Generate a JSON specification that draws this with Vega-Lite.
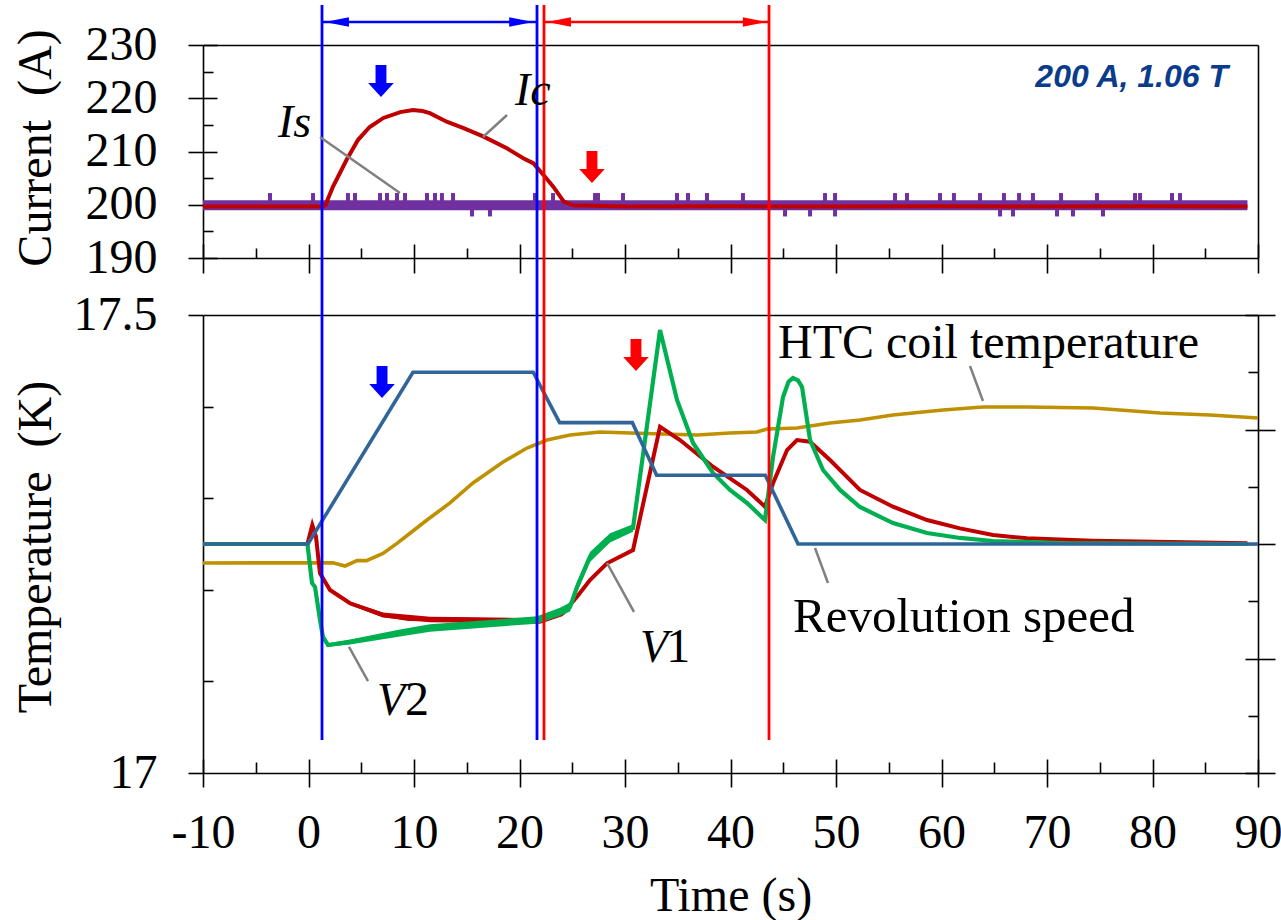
{
  "$schema": "https://vega.github.io/schema/vega-lite/v6.json",
  "width": 1055,
  "height": 728,
  "autosize": {"type": "none"},
  "padding": {"left": 203, "top": 45, "right": 23, "bottom": 147},
  "background": "white",
  "config": {
    "view": {"stroke": null},
    "axis": {
      "grid": false,
      "domainColor": "black",
      "tickColor": "black",
      "labelColor": "black",
      "titleColor": "black",
      "domainWidth": 1.6,
      "tickWidth": 1.6,
      "labelFont": "Liberation Serif",
      "labelFontSize": 48,
      "titleFont": "Liberation Serif",
      "titleFontSize": 48,
      "titleFontWeight": "normal",
      "labelFlush": false,
      "labelOverlap": false
    }
  },
  "datasets": {
    "Is": [{"t": -10, "I": 199.9}, {"t": 20, "I": 199.9}, {"t": 50, "I": 199.9}, {"t": 89, "I": 199.9}],
    "Is_spikes": [
      {"t": -3.65, "I": 202.2}, {"t": 0.43, "I": 202.2}, {"t": 3.74, "I": 202.2}, {"t": 4.41, "I": 202.2},
      {"t": 6.78, "I": 202.2}, {"t": 7.44, "I": 202.2}, {"t": 8.39, "I": 202.2}, {"t": 9.15, "I": 202.2},
      {"t": 11.23, "I": 202.2}, {"t": 11.99, "I": 202.2}, {"t": 12.65, "I": 202.2}, {"t": 13.7, "I": 202.2},
      {"t": 21.47, "I": 202.2}, {"t": 23.18, "I": 202.2}, {"t": 27.16, "I": 202.2}, {"t": 27.44, "I": 202.2},
      {"t": 29.81, "I": 202.2}, {"t": 34.93, "I": 202.2}, {"t": 35.97, "I": 202.2}, {"t": 37.77, "I": 202.2},
      {"t": 41.18, "I": 202.2}, {"t": 48.96, "I": 202.2}, {"t": 49.91, "I": 202.2}, {"t": 55.59, "I": 202.2},
      {"t": 56.73, "I": 202.2}, {"t": 59.86, "I": 202.2}, {"t": 61.18, "I": 202.2}, {"t": 63.65, "I": 202.2},
      {"t": 65.92, "I": 202.2}, {"t": 67.35, "I": 202.2}, {"t": 68.67, "I": 202.2}, {"t": 71.33, "I": 202.2},
      {"t": 74.74, "I": 202.2}, {"t": 78.34, "I": 202.2}, {"t": 78.82, "I": 202.2}, {"t": 81.85, "I": 202.2},
      {"t": 82.61, "I": 202.2},
      {"t": 15.5, "I": 197.8}, {"t": 17.2, "I": 197.8}, {"t": 45.17, "I": 197.8}, {"t": 47.54, "I": 197.8},
      {"t": 49.91, "I": 197.8}, {"t": 65.55, "I": 197.8}, {"t": 66.78, "I": 197.8}, {"t": 70.95, "I": 197.8},
      {"t": 72.46, "I": 197.8}, {"t": 75.31, "I": 197.8}
    ],
    "Ic": [
      {"t": -10, "I": 199.65}, {"t": 1.3, "I": 199.65}, {"t": 1.6, "I": 199.9}, {"t": 2.3, "I": 203.3},
      {"t": 3.6, "I": 208.4}, {"t": 4.7, "I": 212.2}, {"t": 5.8, "I": 214.6}, {"t": 7.1, "I": 216.3},
      {"t": 8.7, "I": 217.4}, {"t": 9.9, "I": 217.8}, {"t": 10.8, "I": 217.6}, {"t": 11.5, "I": 217.2},
      {"t": 13.1, "I": 215.6}, {"t": 14.7, "I": 214.4}, {"t": 16.6, "I": 212.8}, {"t": 18.8, "I": 210.6},
      {"t": 20.4, "I": 208.7}, {"t": 21.3, "I": 207.8}, {"t": 22.4, "I": 205.3}, {"t": 23.2, "I": 203.4},
      {"t": 24.2, "I": 200.6}, {"t": 25.1, "I": 199.9}, {"t": 30, "I": 199.65}, {"t": 40, "I": 199.7},
      {"t": 50, "I": 199.65}, {"t": 60, "I": 199.7}, {"t": 70, "I": 199.65}, {"t": 80, "I": 199.7},
      {"t": 89, "I": 199.65}
    ],
    "HTC": [
      {"t": -10, "T": 17.2293}, {"t": 2.32, "T": 17.2296}, {"t": 3.46, "T": 17.226}, {"t": 4.6, "T": 17.2318},
      {"t": 5.5, "T": 17.2318}, {"t": 7.06, "T": 17.2398}, {"t": 8.39, "T": 17.2507}, {"t": 9.62, "T": 17.2617},
      {"t": 11.23, "T": 17.2762}, {"t": 13.41, "T": 17.2948}, {"t": 15.59, "T": 17.3166}, {"t": 18.44, "T": 17.3395},
      {"t": 20.71, "T": 17.3548}, {"t": 22.61, "T": 17.3635}, {"t": 24.79, "T": 17.369}, {"t": 27.63, "T": 17.3723},
      {"t": 30.47, "T": 17.3712}, {"t": 33.6, "T": 17.3701}, {"t": 36.82, "T": 17.369}, {"t": 39.95, "T": 17.3712},
      {"t": 42.51, "T": 17.3723}, {"t": 43.46, "T": 17.3755}, {"t": 46.3, "T": 17.3766}, {"t": 49.43, "T": 17.3821},
      {"t": 52.27, "T": 17.3854}, {"t": 55.4, "T": 17.3908}, {"t": 60.14, "T": 17.3963}, {"t": 63.93, "T": 17.3996},
      {"t": 68.1, "T": 17.3996}, {"t": 74.36, "T": 17.3985}, {"t": 80.71, "T": 17.393}, {"t": 85.45, "T": 17.3908},
      {"t": 90, "T": 17.3876}
    ],
    "V1": [
      {"t": -10, "T": 17.25}, {"t": -0.1, "T": 17.25}, {"t": 0.36, "T": 17.2707}, {"t": 0.71, "T": 17.258},
      {"t": 1.09, "T": 17.218}, {"t": 2.04, "T": 17.1998}, {"t": 3.93, "T": 17.1853}, {"t": 7.06, "T": 17.1725},
      {"t": 9.5, "T": 17.168}, {"t": 11.52, "T": 17.1675}, {"t": 16, "T": 17.167}, {"t": 21.94, "T": 17.166},
      {"t": 24.12, "T": 17.1743}, {"t": 25.45, "T": 17.1925}, {"t": 26.68, "T": 17.2107}, {"t": 28.29, "T": 17.2289},
      {"t": 30.76, "T": 17.2434}, {"t": 33.32, "T": 17.378}, {"t": 35.21, "T": 17.3635}, {"t": 38.34, "T": 17.3344},
      {"t": 41.56, "T": 17.309}, {"t": 43.27, "T": 17.2907}, {"t": 44.03, "T": 17.3163}, {"t": 45.36, "T": 17.3526},
      {"t": 46.3, "T": 17.3635}, {"t": 47.54, "T": 17.3617}, {"t": 49.43, "T": 17.3417}, {"t": 52.27, "T": 17.309},
      {"t": 55.4, "T": 17.2907}, {"t": 58.63, "T": 17.2762}, {"t": 61.75, "T": 17.2671}, {"t": 64.88, "T": 17.2598},
      {"t": 68.1, "T": 17.2562}, {"t": 74.36, "T": 17.2536}, {"t": 89, "T": 17.2508}
    ],
    "V1_band": [
      {"t": 3.93, "lo": 17.1835, "hi": 17.1871}, {"t": 7.06, "lo": 17.1698, "hi": 17.1752},
      {"t": 11.52, "lo": 17.1645, "hi": 17.1705}, {"t": 16, "lo": 17.164, "hi": 17.17},
      {"t": 21.94, "lo": 17.163, "hi": 17.169}, {"t": 24.12, "lo": 17.1713, "hi": 17.1773}
    ],
    "V2": [
      {"t": -10, "T": 17.25}, {"t": -0.1, "T": 17.25}, {"t": 0.33, "T": 17.2074}, {"t": 0.62, "T": 17.203},
      {"t": 1.09, "T": 17.167}, {"t": 1.37, "T": 17.1485}, {"t": 1.85, "T": 17.1397}, {"t": 3.93, "T": 17.143},
      {"t": 8.67, "T": 17.1528}, {"t": 11.52, "T": 17.1583}, {"t": 21.66, "T": 17.167}, {"t": 23.84, "T": 17.1758},
      {"t": 24.79, "T": 17.1812}, {"t": 25.45, "T": 17.203}, {"t": 26.68, "T": 17.2358}, {"t": 28.58, "T": 17.2566},
      {"t": 30.76, "T": 17.2675}, {"t": 33.32, "T": 17.4836}, {"t": 34.93, "T": 17.4072}, {"t": 36.45, "T": 17.3603},
      {"t": 38.34, "T": 17.3275}, {"t": 39.95, "T": 17.309}, {"t": 41.56, "T": 17.2948}, {"t": 43.27, "T": 17.2762},
      {"t": 44.03, "T": 17.345}, {"t": 44.98, "T": 17.4105}, {"t": 45.5, "T": 17.4272}, {"t": 45.92, "T": 17.4312},
      {"t": 46.4, "T": 17.4286}, {"t": 46.78, "T": 17.4214}, {"t": 47.54, "T": 17.3635}, {"t": 48.77, "T": 17.3308},
      {"t": 50.38, "T": 17.309}, {"t": 52.27, "T": 17.2904}, {"t": 55.4, "T": 17.2729}, {"t": 58.63, "T": 17.262},
      {"t": 61.75, "T": 17.2566}, {"t": 64.88, "T": 17.2533}, {"t": 71.23, "T": 17.2511}, {"t": 89, "T": 17.25}
    ],
    "V2_band": [
      {"t": 1.85, "lo": 17.1377, "hi": 17.1417}, {"t": 3.93, "lo": 17.1403, "hi": 17.1457},
      {"t": 8.67, "lo": 17.149, "hi": 17.1566}, {"t": 11.52, "lo": 17.1543, "hi": 17.1623},
      {"t": 21.66, "lo": 17.163, "hi": 17.171}, {"t": 23.84, "lo": 17.1713, "hi": 17.1803},
      {"t": 24.79, "lo": 17.1762, "hi": 17.1862}, {"t": 25.45, "lo": 17.1975, "hi": 17.2085},
      {"t": 26.68, "lo": 17.2303, "hi": 17.2413}, {"t": 28.58, "lo": 17.2516, "hi": 17.2616},
      {"t": 30.76, "lo": 17.2635, "hi": 17.2715}
    ],
    "speed": [
      {"t": -10, "speed": 2.0}, {"t": -0.05, "speed": 2.0}, {"t": 9.9, "speed": 3.5}, {"t": 21.3, "speed": 3.5},
      {"t": 23.8, "speed": 3.06}, {"t": 30.7, "speed": 3.06}, {"t": 33.0, "speed": 2.6}, {"t": 43.3, "speed": 2.6},
      {"t": 46.4, "speed": 2.0}, {"t": 90, "speed": 2.0}
    ],
    "markers": [
      {"t": 1.28, "phase": "acceleration"}, {"t": 21.66, "phase": "acceleration"},
      {"t": 22.32, "phase": "deceleration"}, {"t": 43.65, "phase": "deceleration"}
    ],
    "spans": [
      {"t": 1.28, "t2": 21.66, "phase": "acceleration"},
      {"t": 22.32, "t2": 43.65, "phase": "deceleration"}
    ],
    "heads": [
      {"t": 1.56, "dir": "left", "phase": "acceleration"}, {"t": 21.3, "dir": "right", "phase": "acceleration"},
      {"t": 22.6, "dir": "left", "phase": "deceleration"}, {"t": 43.45, "dir": "right", "phase": "deceleration"}
    ],
    "arrows_top": [
      {"t": 6.87, "I": 223.24, "phase": "acceleration"}, {"t": 26.87, "I": 207.09, "phase": "deceleration"}
    ],
    "arrows_bottom": [
      {"t": 6.97, "T": 17.4269, "phase": "acceleration"}, {"t": 31.04, "T": 17.4563, "phase": "deceleration"}
    ],
    "labels_top": [
      {"t": -2.89, "I": 212.72, "label": "Is"}, {"t": 19.57, "I": 218.73, "label": "Ic"}
    ],
    "leaders_top": [
      {"t": 1.09, "I": 212.72, "t2": 8.67, "I2": 202.21},
      {"t": 16.54, "I": 212.72, "t2": 18.82, "I2": 216.85}
    ],
    "note": [{"t": 87.16, "I": 222.11, "label": "200 A, 1.06 T"}],
    "labels_bottom_italic": [
      {"t": 31.42, "T": 17.1212, "label": "V"}, {"t": 6.49, "T": 17.0633, "label": "V"}
    ],
    "labels_bottom": [
      {"t": 33.9, "T": 17.1212, "label": "1"}, {"t": 9.15, "T": 17.0633, "label": "2"},
      {"t": 44.5, "T": 17.4531, "label": "HTC coil temperature"}
    ],
    "leaders_bottom": [
      {"t": 28.29, "T": 17.2293, "t2": 30.85, "T2": 17.1758},
      {"t": 3.84, "T": 17.1376, "t2": 5.64, "T2": 17.1004},
      {"t": 62.7, "T": 17.4443, "t2": 63.93, "T2": 17.4061}
    ],
    "speed_label": [{"t": 45.92, "speed": 1.2314, "label": "Revolution speed"}],
    "speed_leader": [{"t": 48.01, "speed": 1.965, "t2": 49.24, "speed2": 1.659}]
  },
  "resolve": {
    "scale": {"y": "independent"},
    "axis": {"x": "independent", "y": "independent"}
  },
  "layer": [
    {
      "data": {"name": "Is"},
      "mark": {"type": "line", "color": "#7030a0", "strokeWidth": 10, "strokeCap": "butt"},
      "encoding": {
        "x": {"field": "t", "type": "quantitative", "scale": {"domain": [-10, 90], "nice": false, "zero": false},
          "axis": {"orient": "bottom", "values": [-10, 0, 10, 20, 30, 40, 50, 60, 70, 80, 90], "ticks": false, "tickSize": 0,
            "labelPadding": 36, "labelExpr": "'' + datum.value", "labelFont": "Liberation Serif", "labelFontSize": 48,
            "title": "Time (s)", "titleFont": "Liberation Serif", "titleFontSize": 48, "titleFontWeight": "normal",
            "titleX": 527.5, "titleY": 137, "titleBaseline": "alphabetic"}},
        "y": {"field": "I", "type": "quantitative", "scale": {"domain": [190, 230], "range": [213, 0], "nice": false, "zero": false},
          "axis": {"orient": "left", "values": [190, 200, 210, 220, 230], "ticks": false, "tickSize": 0, "labelPadding": 46,
            "labelExpr": "'' + datum.value", "labelFont": "Liberation Serif", "labelFontSize": 48,
            "title": "Current\u00a0 (A)", "titleFont": "Liberation Serif", "titleFontSize": 48, "titleFontWeight": "normal",
            "titleX": -153, "titleY": 102.5, "titleBaseline": "alphabetic", "titleAngle": 270}}
      }
    },
    {
      "data": {"name": "Is_spikes"},
      "mark": {"type": "rule", "color": "#7030a0", "strokeWidth": 4},
      "encoding": {
        "x": {"field": "t", "type": "quantitative", "scale": {"domain": [-10, 90], "nice": false, "zero": false},
          "axis": {"orient": "top", "ticks": false, "labels": false, "domain": true, "title": null}},
        "y": {"field": "I", "type": "quantitative", "scale": {"domain": [190, 230], "range": [213, 0], "nice": false, "zero": false},
          "axis": {"orient": "left", "values": [190, 200, 210, 220, 230], "offset": -14, "tickSize": 29, "labels": false, "domain": false, "title": null}},
        "y2": {"datum": 199.9}
      }
    },
    {
      "data": {"name": "Ic"},
      "mark": {"type": "line", "color": "#c00000", "strokeWidth": 4},
      "encoding": {
        "x": {"field": "t", "type": "quantitative", "scale": {"domain": [-10, 90], "nice": false, "zero": false},
          "axis": {"orient": "bottom", "offset": -515, "ticks": false, "labels": false, "domain": true, "title": null}},
        "y": {"field": "I", "type": "quantitative", "scale": {"domain": [190, 230], "range": [213, 0], "nice": false, "zero": false},
          "axis": {"orient": "left", "values": [195, 205, 215, 225], "offset": -10, "tickSize": 10, "labels": false, "domain": false, "title": null}}
      }
    },
    {
      "data": {"name": "HTC"},
      "mark": {"type": "line", "color": "#bf9000", "strokeWidth": 3.6},
      "encoding": {
        "x": {"field": "t", "type": "quantitative", "scale": {"domain": [-10, 90], "nice": false, "zero": false},
          "axis": {"orient": "top", "offset": -270, "ticks": false, "labels": false, "domain": true, "title": null}},
        "y": {"field": "T", "type": "quantitative", "scale": {"domain": [17, 17.5], "range": [728, 270], "nice": false, "zero": false},
          "axis": {"orient": "left", "values": [17, 17.5], "ticks": false, "tickSize": 0, "labelPadding": 46,
            "labelExpr": "datum.value == 17 ? '17' : '17.5'", "labelFont": "Liberation Serif", "labelFontSize": 48,
            "title": "Temperature\u00a0 (K)", "titleFont": "Liberation Serif", "titleFontSize": 48, "titleFontWeight": "normal",
            "titleX": -153, "titleY": 501.5, "titleBaseline": "alphabetic", "titleAngle": 270}}
      }
    },
    {
      "data": {"name": "V1_band"},
      "mark": {"type": "area", "color": "#c00000", "opacity": 1},
      "encoding": {
        "x": {"field": "t", "type": "quantitative", "scale": {"domain": [-10, 90], "nice": false, "zero": false}, "axis": null},
        "y": {"field": "lo", "type": "quantitative", "scale": {"domain": [17, 17.5], "range": [728, 270], "nice": false, "zero": false}, "axis": null},
        "y2": {"field": "hi"}
      }
    },
    {
      "data": {"name": "V1"},
      "mark": {"type": "line", "color": "#c00000", "strokeWidth": 4},
      "encoding": {
        "x": {"field": "t", "type": "quantitative", "scale": {"domain": [-10, 90], "nice": false, "zero": false},
          "axis": {"orient": "bottom", "values": [-10, 0, 10, 20, 30, 40, 50, 60, 70, 80, 90], "offset": -14, "tickSize": 28, "labels": false, "domain": false, "title": null}},
        "y": {"field": "T", "type": "quantitative", "scale": {"domain": [17, 17.5], "range": [728, 270], "nice": false, "zero": false},
          "axis": {"orient": "left", "values": [17.1, 17.2, 17.3, 17.4], "offset": -10, "tickSize": 10, "labels": false, "domain": false, "title": null}}
      }
    },
    {
      "data": {"name": "V2_band"},
      "mark": {"type": "area", "color": "#00b050", "opacity": 1},
      "encoding": {
        "x": {"field": "t", "type": "quantitative", "scale": {"domain": [-10, 90], "nice": false, "zero": false}, "axis": null},
        "y": {"field": "lo", "type": "quantitative", "scale": {"domain": [17, 17.5], "range": [728, 270], "nice": false, "zero": false}, "axis": null},
        "y2": {"field": "hi"}
      }
    },
    {
      "data": {"name": "V2"},
      "mark": {"type": "line", "color": "#00b050", "strokeWidth": 4.2},
      "encoding": {
        "x": {"field": "t", "type": "quantitative", "scale": {"domain": [-10, 90], "nice": false, "zero": false},
          "axis": {"orient": "bottom", "values": [-5, 5, 15, 25, 35, 45, 55, 65, 75, 85], "offset": -11, "tickSize": 11, "labels": false, "domain": false, "title": null}},
        "y": {"field": "T", "type": "quantitative", "scale": {"domain": [17, 17.5], "range": [728, 270], "nice": false, "zero": false},
          "axis": {"orient": "left", "values": [17, 17.5], "tickSize": 15, "labels": false, "domain": false, "title": null}}
      }
    },
    {
      "data": {"name": "speed"},
      "mark": {"type": "line", "color": "#31659a", "strokeWidth": 3.6},
      "encoding": {
        "x": {"field": "t", "type": "quantitative", "scale": {"domain": [-10, 90], "nice": false, "zero": false},
          "axis": {"orient": "bottom", "values": [-10, 0, 10, 20, 30, 40, 50, 60, 70, 80, 90], "offset": -529, "tickSize": 29, "labels": false, "domain": false, "title": null}},
        "y": {"field": "speed", "type": "quantitative", "scale": {"domain": [0, 4], "range": [728, 270], "nice": false, "zero": false},
          "axis": {"orient": "right", "ticks": false, "labels": false, "domain": true, "title": null}}
      }
    },
    {
      "data": {"name": "speed_leader"},
      "mark": {"type": "rule", "color": "#808080", "strokeWidth": 2.5},
      "encoding": {
        "x": {"field": "t", "type": "quantitative", "scale": {"domain": [-10, 90], "nice": false, "zero": false},
          "axis": {"orient": "bottom", "values": [-5, 5, 15, 25, 35, 45, 55, 65, 75, 85], "offset": -525, "tickSize": 10, "labels": false, "domain": false, "title": null}},
        "x2": {"field": "t2"},
        "y": {"field": "speed", "type": "quantitative", "scale": {"domain": [0, 4], "range": [728, 270], "nice": false, "zero": false},
          "axis": {"orient": "right", "values": [0, 1, 2, 3, 4], "offset": -13, "tickSize": 30, "labels": false, "domain": false, "title": null}},
        "y2": {"field": "speed2"}
      }
    },
    {
      "data": {"name": "speed_label"},
      "mark": {"type": "text", "font": "Liberation Serif", "fontSize": 49, "align": "left", "baseline": "alphabetic", "color": "black"},
      "encoding": {
        "x": {"field": "t", "type": "quantitative", "scale": {"domain": [-10, 90], "nice": false, "zero": false}, "axis": null},
        "y": {"field": "speed", "type": "quantitative", "scale": {"domain": [0, 4], "range": [728, 270], "nice": false, "zero": false},
          "axis": {"orient": "right", "values": [0.5, 1.5, 2.5, 3.5], "offset": -10, "tickSize": 10, "labels": false, "domain": false, "title": null}},
        "text": {"field": "label"}
      }
    },
    {
      "data": {"name": "markers"},
      "mark": {"type": "rule", "strokeWidth": 2.8},
      "encoding": {
        "x": {"field": "t", "type": "quantitative", "scale": {"domain": [-10, 90], "nice": false, "zero": false}, "axis": null},
        "y": {"datum": 237.5, "type": "quantitative", "scale": {"domain": [190, 230], "range": [213, 0], "nice": false, "zero": false},
          "axis": {"orient": "right", "ticks": false, "labels": false, "domain": true, "title": null}},
        "y2": {"datum": 99.5},
        "color": {"field": "phase", "type": "nominal", "scale": {"domain": ["acceleration", "deceleration"], "range": ["#0000ff", "#ff0000"]}, "legend": null}
      }
    },
    {
      "data": {"name": "spans"},
      "mark": {"type": "rule", "strokeWidth": 2.5},
      "encoding": {
        "x": {"field": "t", "type": "quantitative", "scale": {"domain": [-10, 90], "nice": false, "zero": false}, "axis": null},
        "x2": {"field": "t2"},
        "y": {"datum": 234.32, "type": "quantitative", "scale": {"domain": [190, 230], "range": [213, 0], "nice": false, "zero": false}, "axis": null},
        "color": {"field": "phase", "type": "nominal", "scale": {"domain": ["acceleration", "deceleration"], "range": ["#0000ff", "#ff0000"]}, "legend": null}
      }
    },
    {
      "data": {"name": "heads"},
      "mark": {"type": "point", "filled": true, "opacity": 1, "size": 576, "strokeWidth": 0},
      "encoding": {
        "x": {"field": "t", "type": "quantitative", "scale": {"domain": [-10, 90], "nice": false, "zero": false}, "axis": null},
        "y": {"datum": 234.32, "type": "quantitative", "scale": {"domain": [190, 230], "range": [213, 0], "nice": false, "zero": false}, "axis": null},
        "shape": {"field": "dir", "type": "nominal", "scale": {"domain": ["left", "right"], "range": ["M0,0 L2,-0.4 L2,0.4 Z", "M0,0 L-2,-0.4 L-2,0.4 Z"]}, "legend": null},
        "color": {"field": "phase", "type": "nominal", "scale": {"domain": ["acceleration", "deceleration"], "range": ["#0000ff", "#ff0000"]}, "legend": null}
      }
    },
    {
      "data": {"name": "arrows_top"},
      "mark": {"type": "point", "filled": true, "opacity": 1, "size": 1024, "strokeWidth": 0,
        "shape": "M-0.34,-1 L0.34,-1 L0.34,0.12 L0.8,0.12 L0,1 L-0.8,0.12 L-0.34,0.12 Z"},
      "encoding": {
        "x": {"field": "t", "type": "quantitative", "scale": {"domain": [-10, 90], "nice": false, "zero": false}, "axis": null},
        "y": {"field": "I", "type": "quantitative", "scale": {"domain": [190, 230], "range": [213, 0], "nice": false, "zero": false}, "axis": null},
        "color": {"field": "phase", "type": "nominal", "scale": {"domain": ["acceleration", "deceleration"], "range": ["#0000ff", "#ff0000"]}, "legend": null}
      }
    },
    {
      "data": {"name": "arrows_bottom"},
      "mark": {"type": "point", "filled": true, "opacity": 1, "size": 1024, "strokeWidth": 0,
        "shape": "M-0.34,-1 L0.34,-1 L0.34,0.12 L0.8,0.12 L0,1 L-0.8,0.12 L-0.34,0.12 Z"},
      "encoding": {
        "x": {"field": "t", "type": "quantitative", "scale": {"domain": [-10, 90], "nice": false, "zero": false}, "axis": null},
        "y": {"field": "T", "type": "quantitative", "scale": {"domain": [17, 17.5], "range": [728, 270], "nice": false, "zero": false}, "axis": null},
        "color": {"field": "phase", "type": "nominal", "scale": {"domain": ["acceleration", "deceleration"], "range": ["#0000ff", "#ff0000"]}, "legend": null}
      }
    },
    {
      "data": {"name": "leaders_top"},
      "mark": {"type": "rule", "color": "#808080", "strokeWidth": 2.5},
      "encoding": {
        "x": {"field": "t", "type": "quantitative", "scale": {"domain": [-10, 90], "nice": false, "zero": false}, "axis": null},
        "x2": {"field": "t2"},
        "y": {"field": "I", "type": "quantitative", "scale": {"domain": [190, 230], "range": [213, 0], "nice": false, "zero": false}, "axis": null},
        "y2": {"field": "I2"}
      }
    },
    {
      "data": {"name": "labels_top"},
      "mark": {"type": "text", "font": "Liberation Serif", "fontSize": 46, "fontStyle": "italic", "align": "left", "baseline": "alphabetic", "color": "black"},
      "encoding": {
        "x": {"field": "t", "type": "quantitative", "scale": {"domain": [-10, 90], "nice": false, "zero": false}, "axis": null},
        "y": {"field": "I", "type": "quantitative", "scale": {"domain": [190, 230], "range": [213, 0], "nice": false, "zero": false}, "axis": null},
        "text": {"field": "label"}
      }
    },
    {
      "data": {"name": "note"},
      "mark": {"type": "text", "font": "Liberation Sans", "fontSize": 32, "fontStyle": "italic", "fontWeight": "bold", "align": "right", "baseline": "alphabetic", "color": "#0b3c8c"},
      "encoding": {
        "x": {"field": "t", "type": "quantitative", "scale": {"domain": [-10, 90], "nice": false, "zero": false}, "axis": null},
        "y": {"field": "I", "type": "quantitative", "scale": {"domain": [190, 230], "range": [213, 0], "nice": false, "zero": false}, "axis": null},
        "text": {"field": "label"}
      }
    },
    {
      "data": {"name": "leaders_bottom"},
      "mark": {"type": "rule", "color": "#808080", "strokeWidth": 2.5},
      "encoding": {
        "x": {"field": "t", "type": "quantitative", "scale": {"domain": [-10, 90], "nice": false, "zero": false}, "axis": null},
        "x2": {"field": "t2"},
        "y": {"field": "T", "type": "quantitative", "scale": {"domain": [17, 17.5], "range": [728, 270], "nice": false, "zero": false}, "axis": null},
        "y2": {"field": "T2"}
      }
    },
    {
      "data": {"name": "labels_bottom_italic"},
      "mark": {"type": "text", "font": "Liberation Serif", "fontSize": 46, "fontStyle": "italic", "align": "left", "baseline": "alphabetic", "color": "black"},
      "encoding": {
        "x": {"field": "t", "type": "quantitative", "scale": {"domain": [-10, 90], "nice": false, "zero": false}, "axis": null},
        "y": {"field": "T", "type": "quantitative", "scale": {"domain": [17, 17.5], "range": [728, 270], "nice": false, "zero": false}, "axis": null},
        "text": {"field": "label"}
      }
    },
    {
      "data": {"name": "labels_bottom"},
      "mark": {"type": "text", "font": "Liberation Serif", "fontSize": 48, "align": "left", "baseline": "alphabetic", "color": "black"},
      "encoding": {
        "x": {"field": "t", "type": "quantitative", "scale": {"domain": [-10, 90], "nice": false, "zero": false}, "axis": null},
        "y": {"field": "T", "type": "quantitative", "scale": {"domain": [17, 17.5], "range": [728, 270], "nice": false, "zero": false}, "axis": null},
        "text": {"field": "label"}
      }
    }
  ]
}
